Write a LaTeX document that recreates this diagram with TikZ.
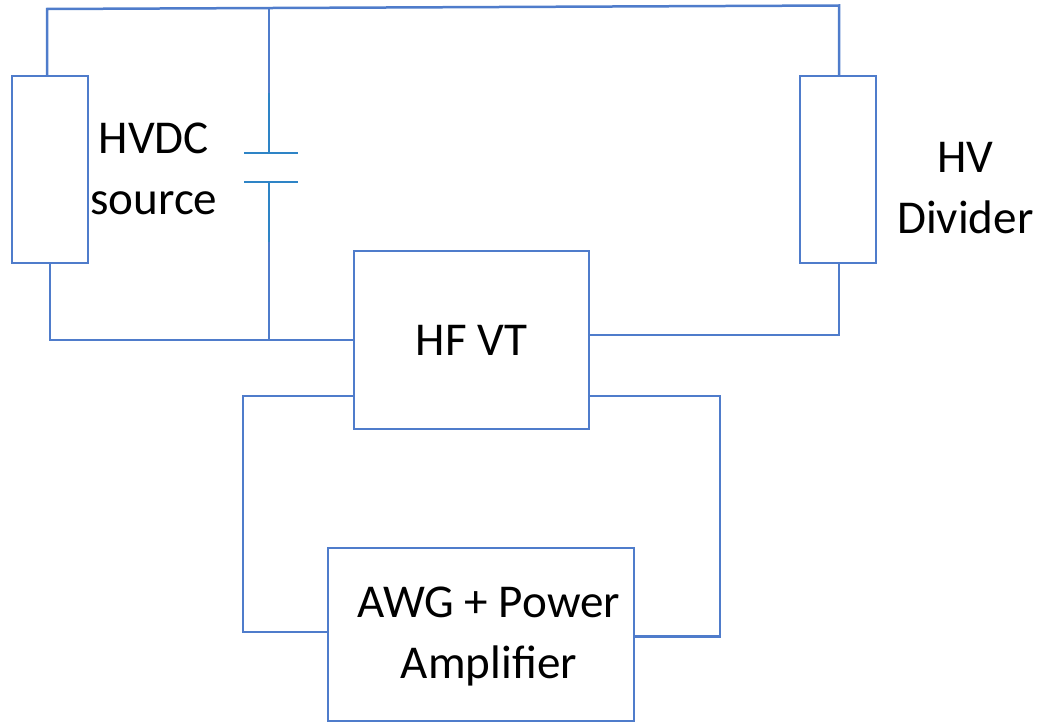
\documentclass[tikz,border=0pt]{standalone}
\usepackage{fontspec}
\setmainfont{Carlito}
\usepackage{tikz}
\usetikzlibrary{positioning}

\definecolor{wireblue}{HTML}{4F7CCB}
\definecolor{capblue}{HTML}{2E84C6}

\begin{document}
\begin{tikzpicture}[
    x=0.02cm, y=-0.02cm,
    font=\fontsize{26.8}{34.7}\selectfont,
    element/.style={rectangle, minimum width=1.52cm, minimum height=3.74cm, inner sep=0pt, outer sep=0pt, draw=wireblue, line width=0.05cm},
    unit/.style={rectangle, inner sep=0pt, outer sep=0pt, text centered, align=center, draw=wireblue, line width=0.05cm},
    caption/.style={inner sep=0pt, align=center, text=black},
    wire/.style={draw=wireblue, line width=0.05cm},
    capwire/.style={draw=capblue, line width=0.05cm},
]

    \useasboundingbox (0,0) rectangle (1038,723);

    \node (source) [element, anchor=north west] at (12,76) {};
    \node (divider) [element, right=14.24cm of source] {};
    \node (hfvt) [unit, minimum width=4.7cm, minimum height=3.56cm, below right=-0.24cm and 5.32cm of source] {HF VT};
    \node (awg) [unit, minimum width=6.12cm, minimum height=3.46cm, below=2.38cm of hfvt, xshift=0.19cm]
      {\rule{0pt}{0.7cm}\hspace*{0.32cm}AWG + Power\\\hspace*{0.32cm}Amplifier};

    \node (source_text) [caption, right=0.04cm of source, yshift=0.02cm] {HVDC\\source};
    \node (divider_text) [caption, right=0.42cm of divider, yshift=-0.38cm] {HV\\Divider};

    % capacitor plates
    \coordinate (plate_a) at (269,153);
    \coordinate (plate_b) at (269,182);
    \coordinate (rail_left) at (47,9);
    \coordinate (rail_mid) at (269,7);
    \coordinate (rail_right) at (839,5.5);
    \coordinate (cap_foot) at (269,340);
    \coordinate (vt_out) at (589,335);
    \coordinate (vt_left) at (354,396);
    \coordinate (vt_right) at (589,396);
    \coordinate (awg_left) at (328,632);
    \coordinate (awg_right) at (634,636.5);

    \draw [wire] (rail_left |- source.north) -- (rail_left) -- (rail_right) -- (rail_right |- divider.north);
    \draw [wire] (source.south) |- (hfvt.west);
    \draw [wire] (vt_out) -| (rail_right |- divider.south);
    \draw [wire] (rail_mid) -- ([yshift=1.2cm]plate_a);
    \draw [capwire] ([yshift=1.2cm]plate_a) -- (plate_a);
    \draw [capwire] ([xshift=-0.5cm]plate_a) -- ([xshift=0.58cm]plate_a);
    \draw [capwire] ([xshift=-0.5cm]plate_b) -- ([xshift=0.58cm]plate_b);
    \draw [capwire] (plate_b) -- ([yshift=-1.2cm]plate_b);
    \draw [wire] ([yshift=-1.2cm]plate_b) -- (cap_foot);
    \draw [wire] (vt_left) -- (243,396) -- (243,632) -- (awg_left);
    \draw [wire] (vt_right) -- (720,396) -- (720,636.5) -- (awg_right);

\end{tikzpicture}
\end{document}
